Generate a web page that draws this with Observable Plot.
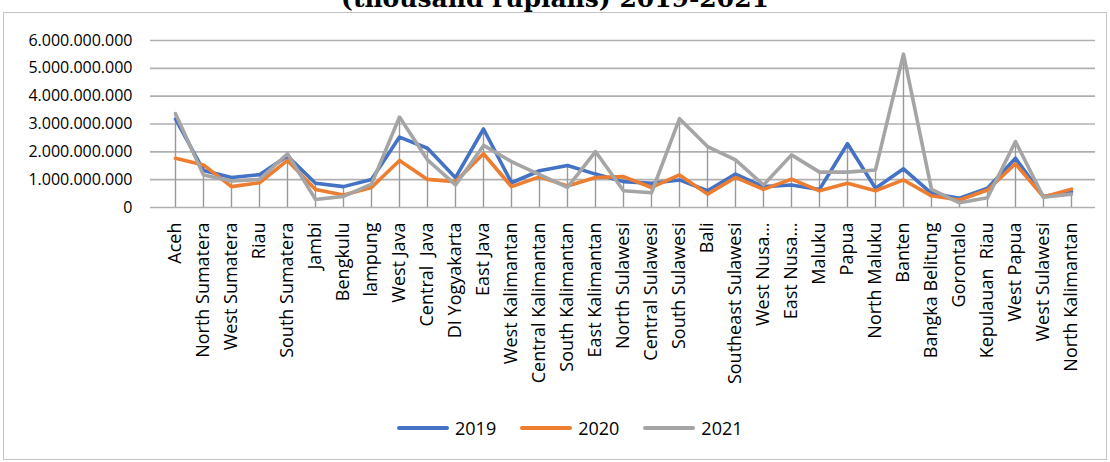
<!DOCTYPE html>
<html><head><meta charset="utf-8">
<script src="https://cdn.jsdelivr.net/npm/d3@7"></script>
<script src="https://cdn.jsdelivr.net/npm/@observablehq/plot@0.6"></script>
<style>
body{margin:0;width:1110px;height:462px;overflow:hidden;background:#fff;position:relative;font-family:"Open Sans",sans-serif;}
#frame{position:absolute;left:3px;top:12px;width:1104px;height:448px;border:1px solid #c4c4c4;box-sizing:border-box;}
#title{position:absolute;left:0;width:1110px;top:-13px;text-align:center;font:bold 25px/24px "DejaVu Serif",serif;color:#000;white-space:nowrap;}
#chart{position:absolute;left:0;top:0;}
#chart svg{color:#000;background:transparent;}
#legend{position:absolute;top:416px;left:397px;display:flex;align-items:center;font:18px "Open Sans",sans-serif;color:#000;}
.item{display:flex;align-items:center;margin-right:24px;}
.swatch{width:52px;height:4px;border-radius:2px;margin-right:6px;}
</style></head>
<body>
<div id="frame"></div>
<div id="title">(thousand rupiahs) 2019-2021</div>
<div id="chart"></div>
<div id="legend"></div>
<script>
const provinces = ["Aceh","North Sumatera","West Sumatera","Riau","South Sumatera","Jambi","Bengkulu","lampung","West Java","Central\u00a0 Java","DI Yogyakarta","East Java","West Kalimantan","Central Kalimantan","South Kalimantan","East Kalimantan","North Sulawesi","Central Sulawesi","South Sulawesi","Bali","Southeast Sulawesi","West Nusa…","East Nusa…","Maluku","Papua","North Maluku","Banten","Bangka Belitung","Gorontalo","Kepulauan\u00a0 Riau","West Papua","West Sulawesi","North Kalimantan"];
const years = ["2019","2020","2021"];
const colors = ["#4472C4","#ED7D31","#A5A5A5"];
// values in billions of (thousand rupiahs)
const v2019 = [3.18,1.33,1.08,1.18,1.85,0.87,0.75,1.01,2.53,2.13,1.07,2.82,0.89,1.32,1.51,1.20,0.93,0.87,0.99,0.60,1.20,0.75,0.81,0.65,2.29,0.69,1.39,0.51,0.33,0.69,1.77,0.39,0.57];
const v2020 = [1.77,1.53,0.75,0.89,1.69,0.65,0.45,0.72,1.69,1.01,0.93,1.93,0.75,1.10,0.77,1.08,1.11,0.72,1.17,0.48,1.08,0.65,1.02,0.60,0.87,0.60,0.99,0.42,0.27,0.63,1.57,0.38,0.66];
const v2021 = [3.37,1.17,0.95,1.01,1.93,0.29,0.40,0.84,3.25,1.71,0.81,2.23,1.65,1.18,0.72,2.01,0.60,0.53,3.19,2.19,1.71,0.81,1.89,1.27,1.27,1.35,5.51,0.65,0.17,0.35,2.37,0.37,0.48];
const yTicks = [0,1e9,2e9,3e9,4e9,5e9,6e9];

const series = [v2019,v2020,v2021];
const data = [];
years.forEach((yr,k)=>provinces.forEach((p,i)=>data.push({province:p,year:yr,value:series[k][i]*1e9})));
const maxes = provinces.map((p,i)=>({province:p,value:Math.max(v2019[i],v2020[i],v2021[i])*1e9}));

const fmt = d3.formatLocale({decimal:",",thousands:".",grouping:[3],currency:["",""]}).format(",");

const chart = Plot.plot({
  width:1110, height:400,
  marginLeft:150, marginRight:15, marginTop:40, marginBottom:193,
  style:{fontFamily:"'Open Sans', sans-serif", background:"transparent"},
  x:{type:"point", domain:provinces, padding:0.5},
  y:{domain:[0,6e9]},
  color:{domain:years, range:colors},
  marks:[
    Plot.ruleY(yTicks,{stroke:"#b0b0b0",strokeWidth:1.6}),
    Plot.ruleX(maxes,{x:"province",y1:0,y2:"value",stroke:"#999",strokeWidth:1.4}),
    Plot.axisY(yTicks,{tickSize:0,tickPadding:18,tickFormat:fmt,fontSize:16,fill:"#000",label:null}),
    Plot.axisX({tickSize:0,tickPadding:15,tickRotate:-90,fontSize:18,fill:"#000",label:null}),
    Plot.line(data,{x:"province",y:"value",stroke:"year",z:"year",strokeWidth:3.6})
  ]
});
document.getElementById("chart").appendChild(chart);

const legend = document.getElementById("legend");
years.forEach((yr,k)=>{
  const it=document.createElement("div");it.className="item";
  const sw=document.createElement("div");sw.className="swatch";sw.style.background=colors[k];
  const tx=document.createElement("span");tx.textContent=yr;
  it.appendChild(sw);it.appendChild(tx);legend.appendChild(it);
});
</script>
</body></html>
